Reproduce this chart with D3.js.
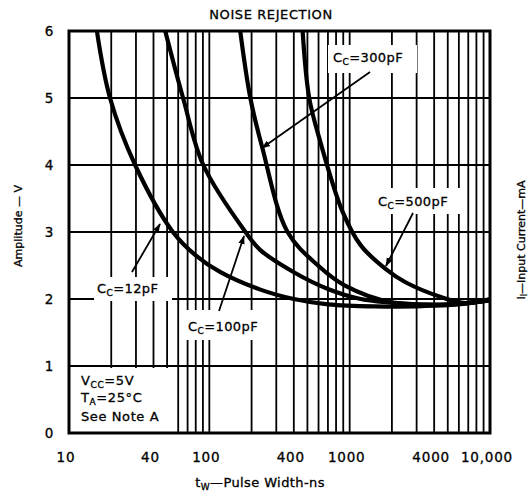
<!DOCTYPE html>
<html>
<head>
<meta charset="utf-8">
<script src="https://cdn.jsdelivr.net/npm/d3@7"></script>
<style>
  body { margin: 0; background: #fff; }
  svg { display: block; }
  text { font-family: "DejaVu Sans", sans-serif; fill: #000; stroke: #000; stroke-width: 0.3px; }
</style>
</head>
<body>
<svg id="chart"></svg>
<script>
// pulse width (ns) and amplitude (V)
var c12_t = [15.8, 19.6, 29.6, 55, 80, 120, 231, 400, 700, 1500, 4000, 10000];
var c12_v = [6, 5, 4, 3, 2.65, 2.4, 2.14, 2.0, 1.92, 1.89, 1.9, 1.98];
var c100_t = [48.5, 65, 90.6, 181, 231, 400, 700, 1200, 2500, 5000, 10000];
var c100_v = [6, 5, 4, 3, 2.73, 2.4, 2.15, 2.0, 1.93, 1.91, 1.98];
var c300_t = [166, 196, 239, 361, 595, 927, 2000, 5000, 10000];
var c300_v = [6, 5, 4.25, 3.0, 2.5, 2.2, 1.95, 1.92, 1.98];
var c500_t = [462, 515, 617, 891, 1200, 1800, 2500, 4470, 6700, 10000];
var c500_v = [6, 5, 4.35, 3.3, 2.8, 2.45, 2.25, 2.03, 1.94, 2.0];

var xTicks = [10, 40, 100, 400, 1000, 4000, 10000];
var xTickLabels = ["10", "40", "100", "400", "1000", "4000", "10,000"];
var yTicks = [0, 1, 2, 3, 4, 5, 6];

var svgWidth = 531, svgHeight = 494;
var svg = d3.select("#chart").attr("width", svgWidth).attr("height", svgHeight);

var x = d3.scaleLog().domain([10, 10000]).range([69, 490]);
var y = d3.scaleLinear().domain([0, 6]).range([433, 31]);

// log grid: 1..9 in every decade
var gridX = [];
[10, 100, 1000].forEach(function (d) {
    for (var k = 2; k <= 9; k++) gridX.push(d * k);
    if (d > 10) gridX.push(d);
});

var grid = svg.append("g");
grid.selectAll("line.v")
    .data(gridX)
    .enter()
    .append("line")
    .attr("x1", function (d) { return x(d); })
    .attr("x2", function (d) { return x(d); })
    .attr("y1", y(6))
    .attr("y2", y(0))
    .attr("stroke", "#000")
    .attr("stroke-width", 1.8);

grid.selectAll("line.h")
    .data([1, 2, 3, 4, 5])
    .enter()
    .append("line")
    .attr("x1", x(10))
    .attr("x2", x(10000))
    .attr("y1", function (d) { return y(d); })
    .attr("y2", function (d) { return y(d); })
    .attr("stroke", "#000")
    .attr("stroke-width", 2);

// white patches where the grid is broken for the notes
var gaps = [
    [71, 368, 172, 433],   // Vcc box
    [94, 277, 172, 301],   // 12pF
    [184, 310, 274, 340],  // 100pF
    [328, 45, 417, 73],    // 300pF
    [373, 188, 465, 214]   // 500pF
];
svg.selectAll("rect.gap")
    .data(gaps)
    .enter()
    .append("rect")
    .attr("x", function (d) { return d[0]; })
    .attr("y", function (d) { return d[1]; })
    .attr("width", function (d) { return d[2] - d[0]; })
    .attr("height", function (d) { return d[3] - d[1]; })
    .attr("fill", "#fff");

svg.append("clipPath").attr("id", "plot")
    .append("rect")
    .attr("x", x(10)).attr("y", y(6))
    .attr("width", x(10000) - x(10)).attr("height", y(0) - y(6));

var line = d3.line()
    .x(function (d) { return x(d[0]); })
    .y(function (d) { return y(d[1]); })
    .curve(d3.curveCatmullRom.alpha(0.5));

var curves = [[c12_t, c12_v], [c100_t, c100_v], [c300_t, c300_v], [c500_t, c500_v]];
svg.append("g")
    .attr("clip-path", "url(#plot)")
    .selectAll("path")
    .data(curves)
    .enter()
    .append("path")
    .attr("d", function (c) { return line(d3.zip(c[0], c[1])); })
    .attr("fill", "none")
    .attr("stroke", "#000")
    .attr("stroke-width", 4.2);

// border
svg.append("rect")
    .attr("x", x(10)).attr("y", y(6))
    .attr("width", x(10000) - x(10)).attr("height", y(0) - y(6))
    .attr("fill", "none")
    .attr("stroke", "#000")
    .attr("stroke-width", 3);

// ticks
svg.selectAll("text.yt")
    .data(yTicks)
    .enter()
    .append("text")
    .attr("x", 49)
    .attr("y", function (d) { return y(d) + 5; })
    .attr("text-anchor", "middle")
    .attr("font-size", 13.5)
    .text(function (d) { return d; });

svg.selectAll("text.xt")
    .data(xTicks)
    .enter()
    .append("text")
    .attr("x", function (d) { return x(d) - 3; })
    .attr("y", 462)
    .attr("text-anchor", "middle")
    .attr("font-size", 13.5)
    .attr("letter-spacing", 0.8)
    .text(function (d, i) { return xTickLabels[i]; });

svg.append("text")
    .attr("x", 271).attr("y", 19)
    .attr("text-anchor", "middle")
    .attr("font-size", 13)
    .attr("letter-spacing", 0.6)
    .text("NOISE REJECTION");

svg.append("text")
    .attr("transform", "translate(22,226) rotate(-90)")
    .attr("text-anchor", "middle")
    .attr("font-size", 11)
    .text("Amplitude \u2014 V");

var xt = svg.append("text")
    .attr("x", 260).attr("y", 487)
    .attr("text-anchor", "middle")
    .attr("font-size", 13)
    .attr("letter-spacing", 0.4);
xt.append("tspan").text("t");
xt.append("tspan").attr("font-size", 9).attr("dy", 3).text("W");
xt.append("tspan").attr("dy", -3).text("\u2014Pulse Width-ns");

// label of the neighbouring chart, at the right edge
var rt = svg.append("text")
    .attr("transform", "translate(525,240) rotate(-90)")
    .attr("text-anchor", "middle")
    .attr("font-size", 11);
rt.append("tspan").text("I");
rt.append("tspan").attr("font-size", 8).attr("dy", 2).text("I");
rt.append("tspan").attr("dy", -2).text("\u2014Input Current\u2014mA");

// curve notes
svg.append("defs").append("marker")
    .attr("id", "arrow")
    .attr("viewBox", "0 0 10 10")
    .attr("refX", 9).attr("refY", 5)
    .attr("markerWidth", 9).attr("markerHeight", 9)
    .attr("markerUnits", "userSpaceOnUse")
    .attr("orient", "auto")
    .append("path")
    .attr("d", "M0,1.5L10,5L0,8.5Z")
    .attr("fill", "#000");

var notes = [
    { label: "12pF", tx: 97, ty: 293, ax1: 132, ay1: 272, ax2: 160, ay2: 224 },
    { label: "100pF", tx: 188, ty: 331, ax1: 219, ay1: 311, ax2: 244, ay2: 236 },
    { label: "300pF", tx: 333, ty: 62, ax1: 370, ay1: 72, ax2: 262, ay2: 148 },
    { label: "500pF", tx: 378, ty: 206, ax1: 413, ay1: 213, ax2: 386, ay2: 266 }
];

svg.selectAll("line.arrow")
    .data(notes)
    .enter()
    .append("line")
    .attr("x1", function (d) { return d.ax1; })
    .attr("y1", function (d) { return d.ay1; })
    .attr("x2", function (d) { return d.ax2; })
    .attr("y2", function (d) { return d.ay2; })
    .attr("stroke", "#000")
    .attr("stroke-width", 1.8)
    .attr("marker-end", "url(#arrow)");

notes.forEach(function (n) {
    var t = svg.append("text").attr("x", n.tx).attr("y", n.ty)
        .attr("font-size", 13).attr("letter-spacing", 0.4);
    t.append("tspan").text("C");
    t.append("tspan").attr("font-size", 9).attr("dy", 3).text("C");
    t.append("tspan").attr("dy", -3).text("=" + n.label);
});

var box = [["V", "CC", "=5V", 385], ["T", "A", "=25\u00b0C", 402], ["See Note A", "", "", 421]];
box.forEach(function (b) {
    var t = svg.append("text").attr("x", 81).attr("y", b[3])
        .attr("font-size", 13).attr("letter-spacing", 0.6);
    t.append("tspan").text(b[0]);
    if (b[1]) {
        t.append("tspan").attr("font-size", 9).attr("dy", 3).text(b[1]);
        t.append("tspan").attr("dy", -3).text(b[2]);
    }
});
</script>
</body>
</html>
